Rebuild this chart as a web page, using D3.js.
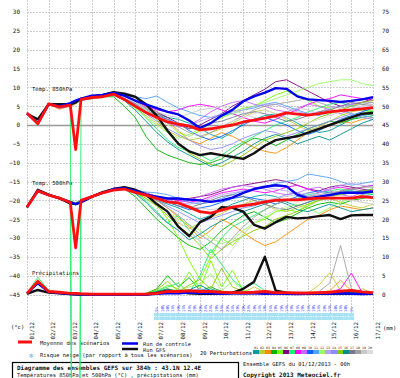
<!DOCTYPE html>
<meta charset="utf-8" />
<script src="https://d3js.org/d3.v7.min.js"></script>
<style>
  body { margin: 0; background: #fff; }
  svg text { font-family: 'DejaVu Sans Mono', 'Liberation Mono', monospace; fill: #111; }
</style>
<body>
<svg id="chart" width="400" height="378"></svg>
<script>
// forecast hours of each point (12h steps, plus the 54h run)
const hours = [0,12,24,36,48,54,60,72,84,96,108,120,132,144,156,168,180,192,204,216,228,240,252,264,276,288,300,312,324,336,348,360,372,384];
const dates = ["01/12","02/12","03/12","04/12","05/12","06/12","07/12","08/12","09/12","10/12","11/12","12/12","13/12","14/12","15/12","16/12","17/12"];
const leftTicks = [30,25,20,15,10,5,0,-5,-10,-15,-20,-25,-30,-35,-40,-45];
const rightTicks = [75,70,65,60,55,50,45,40,35,30,25,20,15,10,5,0];

// Temp 850hPa
const t850Mean    = [3.2,0.3,5.6,4.8,5.3,-6.5,6.8,7.3,7.5,8.2,6.8,5.0,3.3,2.0,0.8,0.2,-0.3,-1.3,-1.0,-0.5,0.0,0.8,1.3,1.8,2.4,3.2,2.9,2.6,3.0,3.5,3.8,4.0,4.3,4.6];
const t850Control = [3.0,0.5,5.5,5.0,5.8,6.5,7.0,7.8,8.0,8.5,7.8,6.5,5.5,4.5,3.5,2.8,1.2,-0.8,0.5,2.5,4.0,6.3,7.6,8.6,9.8,9.6,7.6,6.8,6.6,6.4,6.1,6.4,6.8,7.4];
const t850Gfs     = [3.0,1.5,5.5,5.5,5.5,6.0,7.0,7.5,8.0,8.7,8.3,7.5,5.5,2.5,-1.5,-5.0,-7.0,-8.0,-7.5,-8.0,-8.5,-9.0,-7.5,-5.5,-4.0,-3.5,-3.0,-2.0,-1.0,0.0,1.0,2.0,3.0,3.2];
const t850Members = [
  [3.0,0.8,5.4,5.0,5.0,5.8,6.5,7.0,7.8,8.5,7.5,6.0,4.5,3.0,2.0,1.5,0.5,-1.0,-2.5,-3.5,-2.0,0.5,1.5,2.5,3.0,2.0,0.5,-1.0,-2.0,-1.5,0.0,1.5,2.5,3.0],
  [3.4,0.0,5.8,4.5,5.5,6.2,7.0,7.5,8.0,8.0,6.5,4.5,2.5,0.5,-1.5,-3.0,-4.0,-3.5,-2.0,-1.0,0.5,2.0,3.5,4.0,3.0,1.5,0.0,-1.5,-0.5,1.0,2.5,3.5,4.0,3.5],
  [3.1,0.4,5.5,4.2,5.0,5.5,6.8,7.0,7.4,8.2,7.8,6.5,5.0,3.5,1.0,-1.5,-4.0,-5.0,-3.5,-2.0,-3.0,-4.5,-6.0,-7.0,-7.5,-6.0,-4.0,-2.0,-1.0,0.0,1.0,0.5,1.5,2.0],
  [3.3,0.6,5.7,5.0,5.4,6.0,6.6,7.2,7.5,7.5,5.0,2.0,-3.0,-6.5,-8.0,-9.0,-10.0,-10.5,-10.0,-9.0,-7.0,-5.0,-3.5,-4.0,-5.5,-4.0,-2.5,-1.0,0.0,1.0,0.5,1.5,2.0,2.5],
  [3.0,0.2,5.5,4.8,5.2,6.0,6.8,7.3,7.8,8.5,7.0,5.5,4.0,2.5,0.5,-2.0,-3.0,-1.5,0.5,2.0,3.5,4.5,5.0,6.5,8.0,9.0,8.0,6.5,5.0,4.5,3.0,2.0,3.0,4.0],
  [3.2,0.5,5.6,4.6,5.1,6.1,7.0,7.5,8.0,8.5,7.5,6.0,4.5,3.5,2.0,0.5,-1.0,0.0,1.5,3.0,5.0,6.5,8.0,9.5,11.5,12.0,10.5,9.0,7.5,6.0,5.0,5.5,6.0,7.0],
  [3.1,0.7,5.5,4.9,5.6,-300,6.9,7.4,7.7,8.4,7.3,5.0,2.0,-1.0,-4.0,-6.0,-7.0,-8.0,-9.5,-8.0,-6.0,-4.5,-3.0,-1.5,0.0,1.0,2.0,3.5,4.5,5.5,6.0,5.0,4.0,3.5],
  [3.3,0.3,5.4,5.2,5.3,6.3,7.1,7.6,7.9,8.6,7.8,6.5,5.0,4.0,3.5,4.0,5.0,5.5,5.0,4.0,3.0,2.0,1.0,0.5,1.5,3.0,4.0,5.5,6.5,7.0,8.0,7.5,7.0,6.5],
  [3.0,0.5,5.7,4.4,5.0,5.9,6.5,7.1,7.6,8.0,7.0,5.5,3.5,2.0,0.5,-0.5,0.0,1.5,3.5,5.0,6.0,6.5,5.5,5.0,4.0,3.5,4.5,5.5,5.0,4.0,3.0,4.0,5.0,5.5],
  [3.2,0.2,5.6,5.0,5.5,6.2,6.8,7.4,7.8,8.2,7.2,5.8,4.0,2.5,1.5,0.5,-1.5,-3.0,-4.0,-3.0,-1.5,0.0,1.5,2.0,1.0,0.0,-1.5,-2.5,-1.5,0.0,1.5,2.5,3.5,4.5],
  [3.4,0.6,5.5,4.7,5.2,6.0,6.9,7.3,7.7,8.4,7.9,7.5,7.0,7.7,6.0,4.5,3.5,2.5,2.0,2.5,3.0,4.0,4.5,5.5,6.0,5.0,4.0,3.0,2.5,3.5,4.0,3.0,2.5,2.0],
  [3.1,0.4,5.6,4.9,5.3,6.0,6.9,7.4,7.9,8.3,6.8,4.5,2.0,0.0,-2.0,-3.5,-2.5,-1.0,0.5,2.0,3.0,4.0,5.0,6.0,7.0,8.0,9.0,10.0,11.0,11.5,12.0,12.0,11.0,10.5],
  [3.3,0.6,5.6,4.8,5.4,6.1,6.8,7.3,7.7,8.3,7.4,6.0,4.5,3.0,1.5,0.5,0.0,1.0,2.0,3.0,3.5,4.0,5.0,5.5,5.5,4.5,3.5,3.0,3.5,4.5,5.0,5.5,6.0,6.0],
  [3.2,0.1,5.5,4.9,5.0,5.8,6.6,7.2,7.5,8.1,6.9,5.2,3.0,1.0,-1.0,-2.5,-4.0,-5.5,-6.5,-6.0,-5.0,-3.5,-2.5,-1.5,-2.0,-3.0,-2.0,-1.0,0.0,1.0,2.0,3.0,2.0,1.5],
  [3.0,0.5,5.8,5.1,5.6,6.3,7.0,7.6,8.1,8.6,7.6,6.2,4.0,1.5,-2.0,-5.0,-7.5,-9.0,-10.5,-11.0,-9.5,-8.0,-6.0,-4.0,-3.0,-2.0,-1.0,0.5,2.0,3.0,4.0,5.0,6.0,6.5],
  [3.2,0.4,5.5,4.6,5.2,6.0,6.7,7.2,7.6,8.0,6.5,4.0,1.0,-2.0,-4.5,-6.5,-8.0,-9.5,-11.0,-10.0,-8.5,-7.0,-5.0,-3.5,-2.5,-3.5,-5.0,-4.0,-3.0,-4.0,-2.5,-1.0,0.5,1.5],
  [3.3,0.5,5.7,5.0,5.4,6.2,7.0,7.5,8.0,8.4,7.5,6.0,4.5,3.0,1.5,0.0,-1.0,-0.5,0.5,1.0,2.0,3.0,3.5,3.0,2.0,1.0,1.5,2.5,3.5,4.0,5.0,6.0,5.5,5.0],
  [3.1,0.3,5.6,4.9,5.3,6.0,6.8,7.4,7.8,8.3,7.1,5.6,4.0,2.5,1.0,-0.5,-2.0,-3.0,-2.0,-0.5,1.0,2.5,4.0,5.0,5.5,6.0,6.5,7.0,6.0,5.0,4.5,5.0,5.5,6.0],
  [3.2,0.6,5.5,4.8,5.2,6.1,6.9,7.3,7.7,8.2,7.3,6.0,4.5,3.5,2.5,2.0,3.0,4.0,4.5,5.0,4.0,3.0,2.0,1.5,2.5,3.5,4.5,4.0,3.0,2.5,3.5,4.5,5.0,5.5],
  [3.3,0.4,5.6,5.0,5.4,6.1,6.9,7.4,7.8,8.4,7.4,6.0,4.0,2.0,0.0,-1.5,-3.0,-2.0,-1.0,0.0,1.0,2.0,3.0,4.0,3.0,2.0,1.0,0.5,1.5,2.5,3.5,4.5,5.0,5.0]
];

// Temp 500hPa
const t500Mean    = [-21.8,-17.5,-18.6,-19.4,-20.5,-32.6,-20.0,-19.0,-18.0,-17.3,-17.0,-17.9,-18.6,-19.5,-20.4,-20.7,-21.8,-23.0,-23.4,-22.6,-21.8,-21.4,-21.0,-20.4,-20.0,-19.9,-19.9,-19.6,-19.4,-19.4,-19.4,-19.4,-19.0,-19.3];
const t500Control = [-21.8,-17.5,-18.6,-19.4,-20.5,-21.0,-20.5,-19.0,-18.0,-17.0,-16.8,-17.5,-18.5,-19.0,-19.5,-19.5,-19.8,-20.0,-20.4,-20.0,-19.3,-18.0,-17.0,-16.4,-16.0,-16.3,-18.5,-19.5,-19.0,-18.6,-18.0,-18.0,-18.0,-17.7];
const t500Gfs     = [-21.8,-17.2,-18.5,-19.5,-20.8,-21.0,-20.5,-19.0,-17.8,-17.0,-16.5,-17.2,-18.5,-21.0,-23.0,-27.0,-29.5,-25.8,-24.4,-21.8,-22.0,-23.0,-26.5,-27.5,-25.8,-24.4,-24.8,-24.6,-24.2,-23.9,-25.0,-24.0,-23.9,-23.9];
const t500Members = [
  [-21.7,-17.6,-18.5,-19.3,-20.4,-20.7,-20.1,-19.1,-18.1,-17.3,-16.9,-17.6,-18.8,-20.0,-21.0,-22.0,-23.5,-25.0,-24.0,-22.5,-21.0,-20.0,-19.0,-18.5,-19.0,-20.5,-21.5,-20.5,-19.5,-19.0,-18.0,-17.5,-18.0,-18.5],
  [-21.9,-17.4,-18.7,-19.5,-20.6,-20.9,-20.0,-18.9,-17.9,-17.1,-16.6,-17.3,-18.5,-20.5,-23.0,-26.0,-27.5,-26.0,-24.5,-23.5,-22.0,-21.0,-20.0,-21.0,-22.5,-23.0,-22.0,-21.0,-20.0,-19.5,-20.5,-21.5,-22.0,-21.0],
  [-21.8,-17.5,-18.6,-19.4,-20.5,-20.8,-20.0,-19.0,-18.0,-17.2,-16.8,-17.8,-19.0,-20.0,-22.0,-24.5,-27.0,-30.0,-28.0,-25.0,-26.5,-28.5,-30.5,-32.0,-31.0,-29.0,-27.0,-25.0,-24.0,-22.5,-21.5,-22.0,-22.5,-22.0],
  [-21.6,-17.7,-18.4,-19.2,-20.3,-20.6,-19.9,-18.8,-17.8,-17.0,-16.9,-19.0,-22.0,-25.0,-27.5,-30.0,-32.0,-33.0,-31.0,-28.0,-26.0,-24.0,-23.0,-24.5,-26.0,-25.0,-23.5,-22.0,-21.0,-20.5,-21.0,-20.0,-19.5,-19.0],
  [-21.8,-17.3,-18.6,-19.5,-20.6,-20.9,-20.1,-19.0,-18.1,-17.3,-16.7,-17.4,-18.5,-21.0,-25.0,-30.0,-36.0,-41.0,-35.0,-30.0,-32.0,-29.0,-26.0,-25.0,-23.0,-22.5,-23.0,-21.0,-20.0,-19.0,-18.0,-17.0,-16.5,-16.0],
  [-21.7,-17.6,-18.5,-19.3,-20.4,-20.8,-20.0,-19.0,-17.9,-17.1,-16.6,-17.2,-18.0,-19.0,-19.5,-20.0,-19.5,-19.0,-18.5,-17.5,-16.5,-16.0,-15.5,-15.0,-14.5,-15.0,-16.0,-17.0,-17.5,-16.5,-16.0,-16.5,-17.0,-17.5],
  [-21.9,-17.5,-18.7,-19.4,-20.6,-300,-20.0,-19.1,-18.0,-17.2,-16.9,-18.0,-20.0,-23.0,-26.0,-24.0,-28.0,-31.0,-34.0,-30.0,-27.0,-25.5,-24.0,-22.5,-21.0,-20.0,-19.5,-18.5,-18.0,-17.5,-17.0,-17.5,-18.0,-18.5],
  [-21.8,-17.6,-18.6,-19.3,-20.5,-20.8,-20.1,-19.0,-18.0,-17.2,-16.8,-17.4,-18.2,-19.0,-19.5,-20.0,-20.5,-20.0,-19.0,-18.0,-17.5,-17.0,-17.5,-18.0,-17.5,-16.5,-16.0,-17.0,-18.0,-17.0,-16.5,-17.0,-16.5,-16.0],
  [-21.7,-17.4,-18.5,-19.4,-20.5,-20.7,-19.9,-18.9,-17.9,-17.1,-16.7,-17.3,-18.3,-19.2,-20.0,-20.5,-20.0,-19.0,-18.0,-17.0,-16.5,-16.0,-16.5,-17.0,-18.0,-18.5,-18.0,-17.0,-16.5,-17.5,-18.5,-19.0,-18.0,-17.5],
  [-21.8,-17.5,-18.6,-19.4,-20.5,-20.8,-20.0,-19.0,-18.0,-17.2,-16.8,-17.5,-18.5,-19.5,-20.5,-21.5,-22.5,-22.0,-21.5,-20.5,-19.5,-19.0,-19.5,-20.0,-21.0,-20.0,-19.0,-18.0,-17.5,-18.0,-18.5,-18.0,-17.5,-17.0],
  [-21.9,-17.6,-18.7,-19.5,-20.6,-20.9,-20.1,-19.1,-18.1,-17.3,-16.9,-17.2,-17.8,-18.0,-18.5,-19.5,-20.5,-21.0,-20.5,-19.5,-18.5,-17.5,-17.0,-16.5,-15.5,-15.0,-14.5,-13.0,-13.5,-14.0,-15.0,-16.0,-15.5,-15.0],
  [-21.8,-17.5,-18.5,-19.3,-20.4,-20.7,-20.0,-19.0,-18.0,-17.2,-16.8,-18.0,-19.5,-21.0,-23.0,-25.0,-26.5,-28.0,-30.0,-31.5,-30.5,-28.0,-26.0,-24.5,-23.0,-22.0,-21.0,-22.0,-23.5,-22.0,-20.5,-19.5,-18.5,-18.0],
  [-21.7,-17.5,-18.6,-19.4,-20.5,-20.8,-20.0,-19.0,-18.0,-17.2,-16.7,-17.3,-18.2,-19.0,-19.8,-20.5,-21.0,-20.5,-19.5,-18.5,-18.0,-17.5,-17.0,-16.5,-17.0,-17.5,-18.5,-19.0,-18.0,-17.0,-16.0,-15.5,-16.0,-16.5],
  [-21.8,-17.6,-18.6,-19.4,-20.5,-20.8,-20.0,-19.0,-18.0,-17.2,-16.8,-17.6,-18.8,-20.0,-21.5,-23.0,-24.5,-26.0,-25.0,-24.0,-23.0,-22.0,-21.5,-20.5,-19.5,-18.5,-18.0,-19.0,-20.0,-19.0,-18.0,-17.5,-18.5,-19.0],
  [-21.8,-17.4,-18.6,-19.4,-20.5,-20.8,-20.0,-19.0,-18.0,-17.2,-16.8,-17.9,-19.5,-21.5,-24.0,-27.0,-29.0,-32.0,-35.5,-33.0,-31.0,-29.5,-28.0,-27.0,-25.0,-24.0,-23.0,-21.5,-20.0,-19.0,-18.5,-18.0,-17.5,-17.0],
  [-21.9,-17.5,-18.6,-19.4,-20.5,-20.8,-20.0,-19.0,-18.0,-17.2,-16.8,-18.2,-20.5,-23.5,-26.0,-28.0,-30.5,-29.0,-27.0,-25.5,-24.0,-23.0,-22.0,-21.0,-20.0,-21.0,-22.5,-23.0,-22.0,-21.0,-22.0,-23.0,-22.5,-22.0],
  [-21.7,-17.6,-18.6,-19.4,-20.5,-20.8,-20.0,-19.0,-18.0,-17.2,-16.8,-17.4,-18.4,-19.5,-20.5,-21.5,-22.0,-21.0,-20.0,-19.0,-18.5,-19.0,-20.0,-21.0,-22.0,-22.5,-21.5,-20.5,-19.5,-18.5,-17.5,-17.0,-17.5,-18.0],
  [-21.8,-17.5,-18.6,-19.4,-20.5,-20.8,-20.0,-19.0,-18.0,-17.2,-16.8,-17.6,-18.7,-20.0,-22.0,-24.0,-26.5,-29.0,-31.0,-33.0,-30.0,-27.0,-24.5,-22.5,-21.0,-20.0,-19.5,-19.0,-18.5,-18.0,-17.5,-17.0,-16.5,-16.5],
  [-21.8,-17.5,-18.6,-19.4,-20.5,-20.8,-20.0,-19.0,-18.0,-17.2,-16.8,-17.5,-18.5,-19.5,-20.5,-21.0,-21.5,-22.0,-22.5,-22.0,-21.5,-21.0,-20.5,-20.0,-19.5,-19.0,-18.5,-18.0,-18.5,-19.0,-19.5,-20.0,-20.5,-21.0],
  [-21.8,-17.5,-18.6,-19.4,-20.5,-20.8,-20.0,-19.0,-18.0,-17.2,-16.8,-17.7,-18.9,-20.5,-23.0,-25.5,-28.0,-31.0,-34.5,-37.0,-33.0,-29.0,-26.0,-24.0,-22.5,-21.5,-20.5,-20.0,-19.5,-19.0,-19.5,-20.0,-20.5,-21.0]
];

// Precipitations (mm, right axis)
const precipMean    = [0.3,3.5,0.8,0.6,0.3,0.3,0.2,0.1,0.1,0.1,0.1,0.1,0.1,0.3,0.8,0.8,1.0,0.8,0.8,0.6,0.5,0.5,0.6,0.8,0.5,0.5,0.4,0.4,0.5,0.6,0.9,1.1,0.7,0.5];
const precipControl = [0.3,3.0,0.7,0.4,0.1,0.1,0,0,0,0,0,0,0,0.2,0.4,0.3,0.5,0.4,0.3,0.2,0.3,0.4,0.3,0.2,0.3,0.2,0.1,0.2,0.3,0.2,0.3,0.2,0.1,0.2];
const precipGfs     = [0.2,1.2,0.5,0.3,0.1,0,0,0,0,0,0,0,0,0.4,1.0,0.8,0.3,0.2,0.2,0.3,0.4,1.5,3.4,10.0,1.0,0.5,0.2,0.2,0.3,0.2,0.3,0.2,0.2,0.2];
const precipMembers = [
  [0.4,3.2,0.8,0.4,0.1,0.1,0,0,0,0,0,0,0,0.4,0.9,0.5,0.3,0.8,1.5,0.6,0.2,0.3,0.5,0.2,0.1,0.3,0.6,0.4,0.2,0.1,0.3,0.5,0.2,0.1],
  [0.3,4.0,1.2,0.5,0.2,0.1,0,0,0,0,0,0,0,0.3,0.6,0.3,0.2,0.4,0.2,0.3,0.5,0.5,2.0,0.6,0.3,0.2,0.4,0.4,2.5,5.8,1.0,0.3,1.5,0.5],
  [0.5,3.0,1.0,0.3,0.1,0,0,0,0,0,0,0,0,0.2,0.5,1.2,0.6,0.3,0.5,1.0,0.4,0.2,0.3,0.6,0.2,0.1,0.2,0.3,0.5,1.0,3.8,1.0,0.4,0.2],
  [0.4,2.8,0.7,0.5,0.2,0.1,0,0,0,0,0,0,0.3,1.5,5.0,2.0,4.5,1.0,2.0,0.8,0.5,0.3,0.2,0.5,0.3,0.2,0.1,0.3,0.2,0.1,0.2,0.4,0.3,0.2],
  [0.3,3.6,0.9,0.4,0.1,0,0,0,0,0,0,0,0.2,0.8,2.5,1.5,6.0,1.5,9.0,2.0,6.5,1.0,0.5,0.8,0.4,0.2,0.3,0.2,0.1,0.2,0.3,0.2,0.1,0.2],
  [0.4,3.3,0.8,0.3,0.1,0,0,0,0,0,0,0,0,0.2,0.3,0.5,0.3,0.2,0.4,0.3,0.2,0.1,0.2,0.3,0.2,0.1,0.2,0.3,0.2,0.3,0.5,0.4,0.2,0.1],
  [0.4,4.6,1.0,0.5,0.2,0.1,0,0,0,0,0,0,0.3,1.0,2.0,3.0,0.5,5.0,12.0,8.0,4.0,1.5,3.0,1.0,0.5,0.3,0.2,0.4,0.3,0.2,0.1,0.3,0.2,0.1],
  [0.3,3.0,0.6,0.3,0.1,0,0,0,0,0,0,0,0,0.1,0.3,0.2,0.4,0.3,0.2,0.3,0.2,0.4,0.3,0.2,0.1,0.2,0.3,0.2,0.4,0.6,1.5,5.7,0.5,0.2],
  [0.4,3.4,0.9,0.4,0.1,0,0,0,0,0,0,0,0,0.3,0.6,0.4,0.5,0.6,0.4,0.3,0.5,0.6,0.4,0.3,0.2,0.3,0.4,0.3,0.2,0.4,0.6,0.8,0.4,0.3],
  [0.3,3.1,0.7,0.3,0.1,0,0,0,0,0,0,0,0,0.2,0.4,0.3,0.6,0.8,0.5,0.4,0.3,0.5,0.6,0.4,0.3,0.4,0.5,0.3,0.2,0.3,0.4,0.6,0.3,0.2],
  [0.5,3.8,1.1,0.5,0.2,0.1,0,0,0,0,0,0,0,0.2,0.3,0.4,0.3,0.5,0.6,0.4,0.3,0.2,0.4,0.5,0.3,0.2,0.3,0.4,0.3,0.5,0.4,0.3,0.5,0.4],
  [0.4,3.5,0.8,0.4,0.1,0,0,0,0,0,0,0,0.2,0.6,1.5,1.0,2.0,3.0,5.5,1.0,3.5,1.2,0.6,0.4,0.3,0.2,0.3,0.2,0.3,0.4,0.3,0.2,0.3,0.2],
  [0.3,2.9,0.7,0.3,0.1,0,0,0,0,0,0,0,0,0.1,0.2,0.3,0.2,0.3,0.4,0.3,0.2,0.3,0.5,0.4,0.3,0.2,0.3,0.4,0.5,0.3,0.2,0.4,0.5,0.3],
  [0.4,3.3,0.8,0.4,0.1,0,0,0,0,0,0,0,0.1,0.4,0.8,1.2,0.9,1.5,1.0,0.6,0.4,0.3,0.5,0.4,0.3,0.2,0.3,0.2,0.3,0.4,0.5,0.3,0.2,0.3],
  [0.3,3.7,0.9,0.4,0.1,0,0,0,0,0,0,0,0.3,1.2,3.5,0.8,2.5,4.0,1.5,7.0,2.0,0.8,0.5,0.3,0.4,0.2,0.3,0.2,0.1,0.2,0.3,0.2,0.1,0.2],
  [0.4,3.2,0.8,0.4,0.1,0,0,0,0,0,0,0,0.2,0.8,1.5,0.6,1.2,2.5,1.0,0.5,0.8,0.6,0.4,0.3,0.5,0.6,0.4,0.3,0.5,0.4,0.3,0.6,0.4,0.3],
  [0.3,3.4,0.9,0.4,0.1,0,0,0,0,0,0,0,0,0.2,0.3,0.4,0.3,0.2,0.4,0.5,0.3,0.4,0.6,0.5,0.4,0.3,0.2,0.4,0.3,0.5,0.6,0.4,0.3,0.2],
  [0.4,3.0,0.7,0.3,0.1,0,0,0,0,0,0,0,0,0.3,0.5,0.6,0.8,1.2,0.8,0.5,0.4,0.3,0.2,0.4,0.3,0.2,0.3,0.5,0.8,3.0,13.0,1.5,0.5,0.3],
  [0.3,3.3,0.8,0.4,0.1,0,0,0,0,0,0,0,0,0.2,0.4,0.3,0.5,0.4,0.6,0.5,0.4,0.6,0.8,1.2,0.6,0.4,0.3,0.2,0.3,0.4,0.3,0.5,0.4,0.3],
  [0.4,3.6,0.9,0.4,0.1,0,0,0,0,0,0,0,0,0.3,0.6,0.5,0.8,1.0,0.7,0.5,0.6,0.4,0.3,0.5,0.4,0.3,0.4,0.3,0.2,0.3,0.4,0.3,0.2,0.3]
];

const memberNames = ["01","02","03","04","05","06","07","08","09","10","11","12","13","14","15","16","17","18","19","20"];
const memberColors = ["#00a0a0","#c8c832","#ff8c00","#00b400","#78ff00","#800080","#20f070","#ff00ff","#c864ff","#0064ff",
                      "#50a0ff","#96ff64","#b4a0ff","#8c8cff","#8cc800","#008c8c","#78788c","#a0a0a0","#c8c8c8","#dcdcdc"];

// snow risk (% of scenarios), every 6h from day 6 to day 15
const snowHours = [144,150,156,162,168,174,180,186,192,198,204,210,216,222,228,234,240,246,252,258,264,270,276,282,288,294,300,306,312,318,324,330,336,342,348,354,360];
const snowRisk  = [5,10,10,14,19,14,24,19,29,24,24,19,24,29,24,19,19,24,19,14,19,24,19,19,14,19,24,19,14,19,14,19,14,10,14,10,5];

const svg = d3.select("#chart");
const x = d3.scaleLinear().domain([0, 384]).range([27, 373]);
const yL = d3.scaleLinear().domain([-45, 30]).range([294.5, 12]);
const yR = d3.scaleLinear().domain([0, 75]).range([294.5, 12]);

// grid
const grid = svg.append("g");
grid.selectAll(".h").data(leftTicks).join("line")
  .attr("x1", 27).attr("x2", 373)
  .attr("y1", d => Math.round(yL(d)) + 0.5).attr("y2", d => Math.round(yL(d)) + 0.5)
  .attr("stroke", d => d === 0 ? "#999" : "#cdcdcd")
  .attr("stroke-width", d => d === 0 ? 1.5 : 1)
  .attr("stroke-dasharray", d => d === 0 ? null : "2,1");
grid.selectAll(".v").data(dates).join("line")
  .attr("x1", (d, i) => Math.round(x(i * 24)) + 0.5).attr("x2", (d, i) => Math.round(x(i * 24)) + 0.5)
  .attr("y1", 0).attr("y2", 321)
  .attr("stroke", "#cdcdcd").attr("stroke-dasharray", "2,1");

// axes
const axL = svg.append("g").attr("transform", "translate(20,0)")
  .call(d3.axisLeft(yL).tickValues(leftTicks).tickSize(0).tickPadding(0));
const axR = svg.append("g").attr("transform", "translate(382,0)")
  .call(d3.axisRight(yR).tickValues(rightTicks).tickSize(0).tickPadding(0));
[axL, axR].forEach(a => {
  a.select(".domain").remove();
  a.selectAll("text").attr("font-size", 6).attr("font-family", "DejaVu Sans Mono").attr("fill", "#222");
});

// dates
svg.append("g").selectAll("text").data(dates).join("text")
  .attr("transform", (d, i) => `translate(${x(i * 24) + 6.5},322) rotate(-90)`)
  .attr("text-anchor", "end").attr("font-size", 5.8).text(d => d);

svg.append("text").attr("x", 11).attr("y", 329).attr("font-size", 5.5).text("(°c)");
svg.append("text").attr("x", 383).attr("y", 330).attr("font-size", 5.5).text("(mm)");

// panel labels
svg.append("text").attr("x", 32).attr("y", 91).attr("font-size", 5.6).text("Temp. 850hPa");
svg.append("text").attr("x", 32).attr("y", 185).attr("font-size", 5.6).text("Temp. 500hPa");
svg.append("text").attr("x", 32).attr("y", 275).attr("font-size", 5.6).text("Précipitations");

// snow risk band
const snow = svg.append("g");
snow.selectAll("rect").data(snowHours).join("rect")
  .attr("x", d => x(d) - 2.7).attr("width", 5.4).attr("y", 313).attr("height", 7)
  .attr("fill", "#a6e2f4");
snow.selectAll("line").data(snowHours).join("line")
  .attr("x1", d => x(d) - 2.7).attr("x2", d => x(d) + 2.7).attr("y1", 316.5).attr("y2", 316.5)
  .attr("stroke", "#e4f8fd").attr("stroke-dasharray", "1,1");
snow.selectAll("text").data(snowRisk).join("text")
  .attr("transform", (d, i) => `translate(${x(snowHours[i]) + 1.5},312) rotate(-90)`)
  .attr("font-size", 4).style("fill", "#3a3aff").text(d => d + "%");

// legend
const lg = svg.append("g");
lg.append("line").attr("x1", 18).attr("x2", 32).attr("y1", 342).attr("y2", 342).attr("stroke", "#ff1010").attr("stroke-width", 3);
lg.append("text").attr("x", 40).attr("y", 345).attr("font-size", 5.5).text("Moyenne des scénarios");
lg.append("line").attr("x1", 122).attr("x2", 138).attr("y1", 343.5).attr("y2", 343.5).attr("stroke", "#0000ee").attr("stroke-width", 2.5);
lg.append("line").attr("x1", 122).attr("x2", 138).attr("y1", 349).attr("y2", 349).attr("stroke", "#111").attr("stroke-width", 2.5);
lg.append("text").attr("x", 143).attr("y", 345.5).attr("font-size", 5.3).text("Run de controle");
lg.append("text").attr("x", 143).attr("y", 351.5).attr("font-size", 5.3).text("Run GFS");
lg.append("text").attr("x", 29).attr("y", 358).attr("font-size", 7).style("fill", "#6fb6e6").text("❄");
lg.append("text").attr("x", 40).attr("y", 357).attr("font-size", 5.4).text("Risque neige (par rapport à tous les scénarios)");
lg.append("text").attr("x", 200).attr("y", 355).attr("font-size", 5.4).text("20 Perturbations");
lg.selectAll(".sw").data(memberColors).join("rect")
  .attr("x", (d, i) => 253 + i * 6).attr("y", 350).attr("width", 6).attr("height", 4).attr("fill", d => d);
lg.selectAll(".nm").data(memberNames).join("text")
  .attr("x", (d, i) => 256 + i * 6).attr("y", 349).attr("text-anchor", "middle")
  .attr("font-size", 3.2).text(d => d);

// title box
svg.append("rect").attr("x", 12.5).attr("y", 362.5).attr("width", 226).attr("height", 20)
  .attr("fill", "#fff").attr("stroke", "#000").attr("stroke-width", 1.2);
svg.append("text").attr("x", 17).attr("y", 370).attr("font-size", 6).attr("font-weight", "bold")
  .text("Diagramme des ensembles GEFS sur 384h : 43.1N 12.4E");
svg.append("text").attr("x", 17).attr("y", 377).attr("font-size", 5.4)
  .text("Températures 850hPa et 500hPa (°C) , précipitations (mm)");
svg.append("text").attr("x", 243).attr("y", 366).attr("font-size", 5.4).text("Ensemble GEFS du 01/12/2013 - 00h");
svg.append("text").attr("x", 243).attr("y", 377).attr("font-size", 6).attr("font-weight", "bold").text("Copyright 2013 Meteociel.fr");

// series
const lineL = d3.line().x((d, i) => x(hours[i])).y(d => yL(d));
const lineR = d3.line().x((d, i) => x(hours[i])).y(d => yR(d));

const members = svg.append("g").attr("fill", "none").attr("stroke-width", 0.9);
[[t850Members, lineL], [t500Members, lineL], [precipMembers, lineR]].forEach(([set, gen]) => {
  members.append("g").selectAll("path").data(set).join("path")
    .attr("d", gen).attr("stroke", (d, i) => memberColors[i]);
});

const thick = svg.append("g").attr("fill", "none").attr("stroke-linejoin", "round");
[[t850Gfs, lineL], [t500Gfs, lineL], [precipGfs, lineR]].forEach(([s, gen]) =>
  thick.append("path").attr("d", gen(s)).attr("stroke", "#111").attr("stroke-width", 2.4));
[[t850Control, lineL], [t500Control, lineL], [precipControl, lineR]].forEach(([s, gen]) =>
  thick.append("path").attr("d", gen(s)).attr("stroke", "#0000ee").attr("stroke-width", 2.4));
[[t850Mean, lineL], [t500Mean, lineL], [precipMean, lineR]].forEach(([s, gen]) =>
  thick.append("path").attr("d", gen(s)).attr("stroke", "#ff1010").attr("stroke-width", 2.8));
</script>
</body>
